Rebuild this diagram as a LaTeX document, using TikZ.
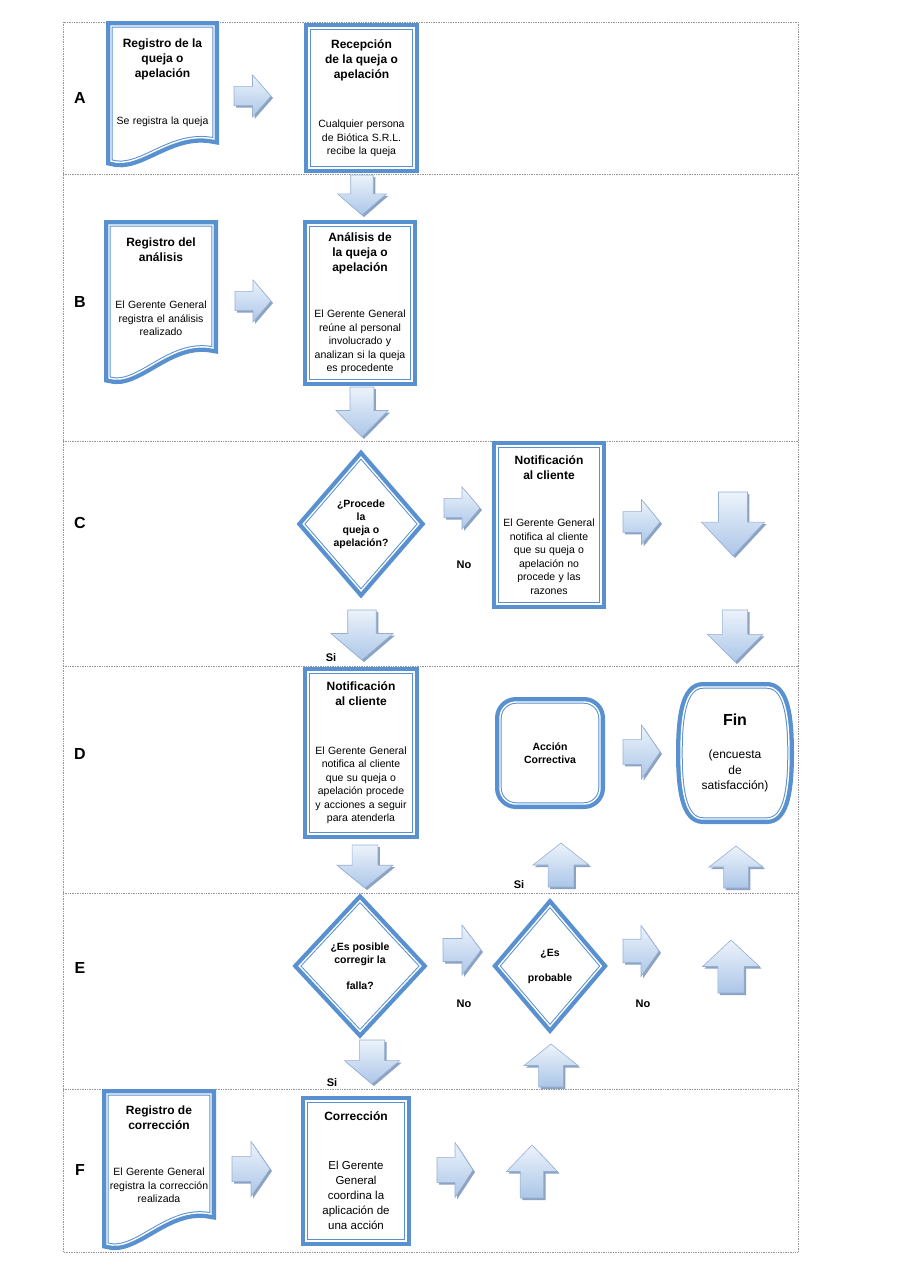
\documentclass[tikz,border=0pt]{standalone}
\usepackage{fontspec}
\setmainfont{Liberation Sans}
\usetikzlibrary{shapes.geometric,backgrounds,calc}

\definecolor{azul}{RGB}{88,144,208}
\definecolor{celeste}{RGB}{172,198,232}
\definecolor{claro}{RGB}{236,243,251}
\definecolor{bordeflecha}{RGB}{150,176,212}
\definecolor{sombra}{RGB}{140,162,194}
\definecolor{rejilla}{RGB}{150,150,150}

\newcommand{\titulo}{\bfseries\fontsize{12}{15}\selectfont}
\newcommand{\cuerpo}{\fontsize{10.5}{13.5}\selectfont}

% flechas de bloque: x, y (cola), largo, ancho
\newcommand{\flechader}[4]{%
  \shade[flecha] (#1,#2-0.23*#4) -- (#1+0.5*#3,#2-0.23*#4) -- (#1+0.5*#3,#2-0.5*#4)
    -- (#1+#3,#2) -- (#1+0.5*#3,#2+0.5*#4) -- (#1+0.5*#3,#2+0.23*#4) -- (#1,#2+0.23*#4) -- cycle;}
\newcommand{\flechaabajo}[4]{%
  \shade[flecha] (#1-0.23*#4,#2) -- (#1-0.23*#4,#2+0.47*#3) -- (#1-0.5*#4,#2+0.47*#3)
    -- (#1,#2+#3) -- (#1+0.5*#4,#2+0.47*#3) -- (#1+0.23*#4,#2+0.47*#3) -- (#1+0.23*#4,#2) -- cycle;}
\newcommand{\flechaarriba}[4]{%
  \shade[flecha] (#1-0.23*#4,#2) -- (#1-0.23*#4,#2-0.5*#3) -- (#1-0.5*#4,#2-0.5*#3)
    -- (#1,#2-#3) -- (#1+0.5*#4,#2-0.5*#3) -- (#1+0.23*#4,#2-0.5*#3) -- (#1+0.23*#4,#2) -- cycle;}

% contornos: documento y terminal
\newcommand{\hoja}[2]{%
  \draw[marco] (#1.north west) -- (#1.north east) -- (#1.south east)
    .. controls +(-44,-9) and +(29,9) .. ($(#1.south west)+(0,#2)$) -- cycle;}
\newcommand{\barril}[1]{%
  \draw[marco] ($(#1.north west)+(22,0)$) -- ($(#1.north east)+(-22,0)$)
    .. controls +(18,0) and +(0,-36) .. (#1.east)
    .. controls +(0,36) and +(18,0) .. ($(#1.south east)+(-22,0)$)
    -- ($(#1.south west)+(22,0)$)
    .. controls +(-18,0) and +(0,36) .. (#1.west)
    .. controls +(0,-36) and +(-18,0) .. ($(#1.north west)+(22,0)$) -- cycle;}

\begin{document}
\begin{tikzpicture}
  [
    x=1pt, y=-1pt,
    marco/.style={draw=azul, line width=1pt, double=white, double distance=1.4pt,
      fill=white, preaction={draw=azul, line width=10pt}},
    proceso/.style={rectangle, marco, inner sep=0pt, align=center, text width=100pt},
    decision/.style={diamond, marco, aspect=1, inner sep=0pt, align=center,
      font=\bfseries\fontsize{10.5}{13}\selectfont},
    texto/.style={rectangle, inner sep=0pt, outer sep=0pt, align=center, text width=100pt},
    flecha/.style={top color=claro, bottom color=celeste, draw=bordeflecha, line width=0.6pt,
      preaction={fill=sombra, transform canvas={xshift=2pt, yshift=-2pt}}},
    carril/.style={draw=rejilla, densely dotted, line width=0.7pt},
    letra/.style={font=\bfseries\fontsize{16}{18}\selectfont},
    respuesta/.style={font=\bfseries\fontsize{11}{12}\selectfont},
  ]
  \useasboundingbox (0,0) rectangle (905,1280);

  % carriles
  \foreach \l/\y in {A/98,B/302,C/523,D/754,E/968,F/1170}
    \node[letra] (carril\l) at (80,\y) {\l};

  % A
  \node[texto, minimum width=103pt, minimum height=113pt] (regA) at (162.5,82.5)
    {{\titulo Registro de la\\queja o\\apelación\par}\vspace{33pt}{\cuerpo Se registra la queja\par}};
  \node[proceso, minimum width=105pt, minimum height=140pt] (recA) at (361.5,98)
    {{\titulo Recepción\\de la queja o\\apelación\par}\vspace{36pt}{\cuerpo Cualquier persona\\de Biótica S.R.L.\\recibe la queja\par}};

  % B
  \node[texto, minimum width=104pt, minimum height=123pt] (regB) at (161,286.5)
    {{\titulo Registro del\\análisis\par}\vspace{34pt}{\cuerpo El Gerente General\\registra el análisis\\realizado\par}};
  \node[proceso, minimum width=104pt, minimum height=156pt] (anaB) at (360,303)
    {{\titulo Análisis de\\la queja o\\apelación\par}\vspace{33pt}{\cuerpo El Gerente General\\reúne al personal\\involucrado y\\analizan si la queja\\es procedente\par}};

  % C
  \node[decision, minimum width=116pt, minimum height=134pt] (proC) at (361,524)
    {¿Procede\\la\\queja o\\apelación?};
  \node[proceso, minimum width=104pt, minimum height=158pt] (notC) at (549,525)
    {{\titulo Notificación\\al cliente\par}\vspace{34pt}{\cuerpo El Gerente General\\notifica al cliente\\que su queja o\\apelación no\\procede y las\\razones\par}};

  % D
  \node[proceso, minimum width=106pt, minimum height=162pt] (notD) at (361,753)
    {{\titulo Notificación\\al cliente\par}\vspace{35pt}{\cuerpo El Gerente General\\notifica al cliente\\que su queja o\\apelación procede\\y acciones a seguir\\para atenderla\par}};
  \node[proceso, rounded corners=16pt, minimum width=98pt, minimum height=102pt,
    font=\bfseries\fontsize{10.5}{13}\selectfont] (accD) at (550,753) {Acción\\Correctiva};
  \node[texto, minimum width=108pt, minimum height=132pt] (finD) at (735,753)
    {{\bfseries\fontsize{16}{19}\selectfont Fin\par}\vspace{18pt}{\fontsize{12}{15.5}\selectfont (encuesta\\de\\satisfacción)\par}};

  % E
  \node[decision, minimum width=122pt, minimum height=131pt] (posE) at (360,966)
    {¿Es posible\\corregir la\\[13pt]falla?};
  \node[decision, minimum width=103pt, minimum height=121pt] (proE) at (550,966)
    {¿Es\\[12pt]probable};

  % F
  \node[texto, minimum width=104pt, minimum height=120pt] (regF) at (159,1154)
    {{\titulo Registro de\\corrección\par}\vspace{33pt}{\cuerpo El Gerente General\\registra la corrección\\realizada\par}};
  \node[proceso, minimum width=100pt, minimum height=140pt] (corF) at (356,1171)
    {{\titulo Corrección\par}\vspace{34pt}{\fontsize{11.5}{15}\selectfont El Gerente\\General\\coordina la\\aplicación de\\una acción\par}};

  % respuestas
  \node[respuesta] (noC) at (464,565) {No};
  \node[respuesta] (siC) at (331,658) {Si};
  \node[respuesta] (siD) at (519,885) {Si};
  \node[respuesta] (noE1) at (464,1004) {No};
  \node[respuesta] (noE2) at (643,1004) {No};
  \node[respuesta] (siE) at (332,1083) {Si};

  % flechas
  \flechader{234}{96}{37}{42}
  \flechader{235}{301}{36}{42}
  \flechader{444}{508}{36}{42}
  \flechader{623}{522}{37}{45}
  \flechader{623}{752}{37}{54}
  \flechader{443}{950}{38}{50}
  \flechader{623}{951}{36}{51}
  \flechader{232}{1169}{38}{55}
  \flechader{437}{1170}{36}{55}
  \flechaabajo{362}{175}{40}{49}
  \flechaabajo{362}{387}{50}{52}
  \flechaabajo{362}{610}{50}{62}
  \flechaabajo{733}{492}{64}{63}
  \flechaabajo{735}{610}{52}{55}
  \flechaabajo{365}{845}{43}{56}
  \flechaabajo{372}{1040}{44}{55}
  \flechaarriba{561}{887}{44}{56}
  \flechaarriba{736}{888}{42}{54}
  \flechaarriba{731}{993}{53}{57}
  \flechaarriba{551}{1087}{43}{54}
  \flechaarriba{532}{1198}{53}{51}

  \begin{scope}[on background layer]
    \draw[carril] (63,22) rectangle (798,1252);
    \foreach \y in {174,441,666,893,1089}
      \draw[carril] (63,\y) -- (798,\y);
    \hoja{regA}{22}
    \hoja{regB}{30}
    \hoja{regF}{30}
    \barril{finD}
  \end{scope}
\end{tikzpicture}
\end{document}
